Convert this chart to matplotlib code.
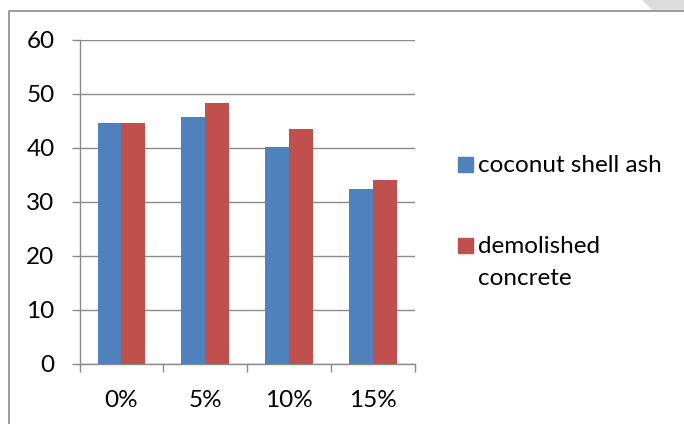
import matplotlib.pyplot as plt
import numpy as np
from matplotlib.lines import Line2D
from matplotlib.patches import Polygon, Rectangle

plt.rcParams["font.family"] = ["Lato", "DejaVu Sans"]

CATEGORIES = ["0%", "5%", "10%", "15%"]
SERIES = ["coconut shell ash", "demolished\nconcrete"]
COCONUT_ASH = [44.6, 45.8, 40.1, 32.4]
DEMOLISHED = [44.6, 48.3, 43.5, 34.1]
COLORS = ["#4F81BD", "#C0504D"]
Y_TICKS = [0, 10, 20, 30, 40, 50, 60]

GRID = "#8a8a8a"
FS = 17.5

W, H = 684, 424
fig = plt.figure(figsize=(W / 100, H / 100), dpi=100)
ax = fig.add_axes([79.5 / W, 1 - 364 / H, (414.7 - 79.5) / W, (364 - 40) / H])

x = np.arange(len(CATEGORIES))
bw = 0.285
for i, (vals, col) in enumerate(zip([COCONUT_ASH, DEMOLISHED], COLORS)):
    ax.bar(x + (i - 0.5) * bw, vals, width=bw, color=col, zorder=3)

ax.set_xlim(-0.5, len(CATEGORIES) - 0.5)
ax.set_ylim(0, 60)
ax.set_yticks(Y_TICKS)
ax.yaxis.grid(True, color=GRID, linewidth=1.0, zorder=0)

# category boundaries carry the tick marks, labels sit in the middle
ax.set_xticks(np.arange(len(CATEGORIES) + 1) - 0.5)
ax.set_xticklabels([])
ax.set_xticks(x, minor=True)
ax.set_xticklabels(CATEGORIES, minor=True, fontsize=FS)
ax.tick_params(axis="x", which="minor", length=0, pad=19)
ax.tick_params(axis="x", which="major", length=6, color=GRID, width=1.0,
               direction="out")
ax.tick_params(axis="y", length=6, color=GRID, width=1.0, direction="out",
               labelsize=FS, pad=12)

for side in ("top", "right"):
    ax.spines[side].set_visible(False)
for side in ("left", "bottom"):
    ax.spines[side].set_color(GRID)
    ax.spines[side].set_linewidth(1.0)

# legend drawn by hand: square sits on the first line's baseline
px = lambda xp, yp: (xp / W, 1 - yp / H)
legend_rows = [(156.7, 171.7), (237.5, 252.7)]
line_step = 32
for (top, base), label, col in zip(legend_rows, SERIES, COLORS):
    x0, y0 = px(458.3, base)
    fig.add_artist(Rectangle((x0, y0), 14.4 / W, (base - top) / H,
                             transform=fig.transFigure, color=col))
    for k, part in enumerate(label.split("\n")):
        tx, ty = px(478.3, base + k * line_step)
        fig.text(tx, ty, part, fontsize=FS, va="baseline", ha="left",
                 color="black")

# outer chart frame and the page corner shading
fig.add_artist(Line2D([9 / W, 9 / W, 1.0], [0.0, 1 - 10.5 / H, 1 - 10.5 / H],
                      transform=fig.transFigure, color=GRID, linewidth=1.2))
fig.add_artist(Polygon([px(641.7, 0), px(W, 0), px(W, 10), px(652, 10)],
                       closed=True, transform=fig.transFigure,
                       facecolor="#dcdcdc", edgecolor="none"))

fig.savefig("out.png", dpi=100)
